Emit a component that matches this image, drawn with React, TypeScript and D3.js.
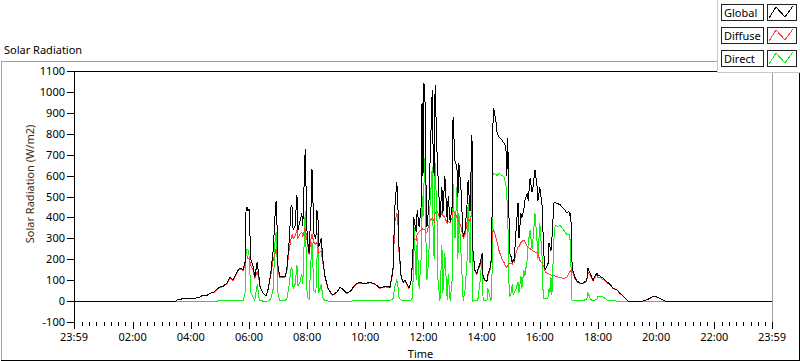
import React from "react";
import * as d3 from "d3";

// sample times (HH:MM) and readings in W/m2
const times = [
  "00:00", "03:17", "03:29", "03:34", "03:48", "04:09", "04:19", "04:25", "04:33", "04:40", "04:48", "04:54",
  "05:00", "05:06", "05:15", "05:21", "05:27", "05:35", "05:41", "05:48", "05:52", "05:54", "05:56", "05:58",
  "06:00", "06:04", "06:08", "06:12", "06:17", "06:21", "06:23", "06:29", "06:35", "06:39", "06:45", "06:50", "06:54", "06:56", "06:58",
  "07:00", "07:04", "07:10", "07:14", "07:18", "07:23", "07:27", "07:29", "07:31", "07:35", "07:39", "07:41", "07:45", "07:49", "07:51", "07:56",
  "08:00", "08:04", "08:08", "08:10", "08:14", "08:18", "08:20", "08:22", "08:24", "08:29", "08:33", "08:37", "08:43", "08:49", "08:53",
  "09:02", "09:08", "09:14", "09:22", "09:31", "09:35", "09:43", "09:49", "09:59", "10:10", "10:20", "10:30", "10:41", "10:51", "10:57",
  "11:01", "11:05", "11:07", "11:09", "11:14", "11:18", "11:22", "11:26", "11:30", "11:34", "11:38", "11:40", "11:45", "11:47", "11:51", "11:55", "11:57", "11:59",
  "12:01", "12:03", "12:05", "12:07", "12:11", "12:13", "12:18", "12:20", "12:22", "12:24", "12:28", "12:30", "12:34", "12:38", "12:40", "12:44", "12:49", "12:51", "12:55", "12:59",
  "13:01", "13:05", "13:09", "13:11", "13:13", "13:17", "13:22", "13:26", "13:30", "13:32", "13:36", "13:40", "13:42", "13:46", "13:50", "13:52", "13:57",
  "14:01", "14:03", "14:07", "14:11", "14:13", "14:19", "14:21", "14:23", "14:25", "14:30", "14:32", "14:36", "14:42", "14:46", "14:50", "14:52", "14:54", "14:56", "14:58",
  "15:01", "15:03", "15:05", "15:07", "15:11", "15:15", "15:17", "15:21", "15:23", "15:27", "15:29", "15:34", "15:36", "15:40", "15:44", "15:46", "15:50", "15:54", "15:56",
  "16:00", "16:05", "16:07", "16:09", "16:11", "16:15", "16:17", "16:19", "16:21", "16:23", "16:25", "16:29", "16:31", "16:33", "16:38", "16:42", "16:46", "16:52", "16:56", "16:58",
  "17:00", "17:02", "17:04", "17:06", "17:08", "17:13", "17:17", "17:23", "17:29", "17:37", "17:39", "17:44", "17:48", "17:50", "17:54", "17:58",
  "18:00", "18:04", "18:10", "18:19", "18:25", "18:31", "18:39", "18:45", "18:52", "18:58", "19:02", "19:33", "19:43", "19:54", "20:02", "20:08", "20:18", "23:59",
];

const globalRad = [
  0, 0, 0, 8, 12, 14, 20, 29, 27, 38, 43, 57,
  67, 70, 86, 115, 100, 139, 158, 150, 186, 445, 450, 430,
  440, 196, 170, 115, 186, 110, 67, 38, 24, 52, 134, 244, 420, 478, 354,
  160, 115, 120, 115, 148, 291, 459, 450, 340, 360, 507, 340, 380, 420, 360, 727,
  306, 230, 450, 631, 320, 300, 435, 420, 258, 300, 182, 115, 62, 38, 29,
  45, 67, 55, 38, 50, 67, 86, 88, 84, 90, 82, 62, 70, 67, 148,
  450, 570, 480, 277, 115, 90, 100, 80, 62, 90, 210, 400, 330, 435, 354, 450, 946, 600,
  1042, 980, 580, 354, 450, 626, 1008, 700, 600, 1032, 707, 600, 400, 545, 420, 600, 380, 500, 380, 450,
  880, 670, 640, 500, 660, 550, 306, 340, 468, 578, 430, 794, 244, 148, 130, 148, 182,
  230, 115, 100, 95, 130, 170, 300, 832, 922, 850, 800, 785, 770, 755, 737, 600, 780, 450, 230,
  210, 182, 200, 190, 340, 468, 300, 420, 400, 435, 480, 516, 480, 588, 520, 545, 626, 560, 480,
  545, 450, 300, 196, 148, 170, 180, 277, 258, 240, 300, 468, 473, 470, 465, 460, 450, 435, 420, 425,
  430, 410, 420, 200, 148, 110, 95, 86, 86, 100, 158, 130, 110, 100, 120, 134,
  120, 120, 110, 91, 80, 62, 55, 38, 24, 10, 0, 0, 8, 24, 20, 12, 0, 0,
];

const diffuseRad = [
  0, 0, 0, 8, 12, 14, 20, 28, 27, 37, 42, 55,
  65, 68, 84, 110, 98, 135, 155, 145, 175, 220, 215, 200,
  205, 170, 150, 110, 140, 100, 65, 37, 24, 50, 125, 200, 230, 250, 230,
  140, 112, 115, 112, 140, 250, 300, 320, 300, 310, 340, 300, 320, 330, 310, 350,
  290, 220, 300, 320, 280, 270, 280, 260, 230, 240, 175, 112, 60, 37, 28,
  44, 65, 54, 37, 49, 65, 84, 86, 82, 88, 80, 61, 68, 65, 140,
  380, 420, 400, 250, 112, 88, 98, 78, 61, 88, 190, 300, 290, 320, 330, 340, 350, 340,
  345, 340, 330, 330, 360, 380, 400, 390, 380, 420, 430, 420, 395, 430, 410, 400, 370, 380, 375, 400,
  430, 420, 400, 390, 380, 360, 300, 320, 380, 400, 380, 420, 240, 145, 128, 145, 170,
  200, 112, 98, 93, 120, 160, 280, 330, 340, 300, 280, 240, 200, 185, 165, 160, 170, 175, 180,
  180, 175, 190, 185, 230, 258, 260, 280, 285, 291, 285, 260, 258, 250, 245, 240, 235, 230, 225,
  196, 180, 170, 160, 139, 135, 130, 130, 128, 125, 124, 124, 120, 118, 115, 112, 110, 110, 115, 125,
  135, 140, 148, 140, 140, 105, 92, 84, 84, 95, 140, 122, 105, 97, 113, 125,
  112, 113, 104, 88, 78, 60, 53, 37, 24, 10, 0, 0, 8, 22, 18, 12, 0, 0,
];

const directRad = [
  0, 0, 0, 0, 0, 0, 0, 0, 0, 0, 0, 0,
  2, 2, 2, 3, 2, 3, 4, 5, 40, 240, 250, 245,
  220, 40, 20, 5, 80, 10, 2, 0, 0, 0, 10, 60, 300, 330, 200,
  30, 3, 3, 3, 10, 80, 160, 150, 60, 80, 170, 70, 90, 130, 80, 430,
  20, 10, 200, 280, 50, 40, 180, 325, 40, 80, 10, 3, 0, 0, 0,
  0, 0, 0, 0, 0, 2, 2, 2, 2, 3, 2, 2, 2, 2, 10,
  70, 100, 80, 20, 3, 2, 2, 2, 2, 2, 20, 380, 100, 300, 60, 200, 500, 400,
  560, 684, 300, 100, 200, 435, 640, 300, 200, 660, 380, 100, 0, 270, 40, 230, 5, 130, 0, 100,
  560, 300, 545, 200, 420, 250, 0, 60, 200, 468, 180, 626, 0, 2, 2, 2, 100,
  210, 3, 2, 2, 60, 5, 20, 600, 610, 605, 600, 610, 600, 595, 560, 497, 400, 100, 19,
  40, 80, 30, 40, 60, 90, 40, 120, 60, 150, 120, 200, 277, 340, 250, 300, 420, 300, 200,
  373, 200, 19, 10, 10, 10, 20, 60, 40, 115, 30, 291, 354, 360, 358, 360, 350, 330, 316, 316,
  320, 310, 200, 5, 3, 2, 2, 2, 2, 10, 43, 10, 3, 3, 5, 10,
  24, 24, 20, 5, 3, 2, 0, 0, 0, 0, 0, 0, 0, 0, 0, 0, 0, 0,
];

const yTicks = [-100, 0, 100, 200, 300, 400, 500, 600, 700, 800, 900, 1000, 1100];
const xTickLabels = ["23:59", "02:00", "04:00", "06:00", "08:00", "10:00", "12:00", "14:00", "16:00", "18:00", "20:00", "22:00", "23:59"];
const xTickMinutes = [-1, 120, 240, 360, 480, 600, 720, 840, 960, 1080, 1200, 1320, 1439];

const legendNames = ["Global", "Diffuse", "Direct"];
const legendColors = ["#000000", "#ff3b3b", "#10f010"];

const toMinutes = (t: string) => {
  const [h, m] = t.split(":").map(Number);
  return h * 60 + m;
};

const font = "'Noto Sans', 'DejaVu Sans', sans-serif";

export default function App() {
  const width = 800;
  const height = 361;

  const x = d3.scaleLinear().domain([-1, 1439]).range([74, 772]);
  const y = d3.scaleLinear().domain([-100, 1100]).range([322, 71]);

  const mins = times.map(toMinutes);
  const line = d3
    .line<number>()
    .x((_, i) => x(mins[i]))
    .y(d => y(d));

  const seriesList = [globalRad, diffuseRad, directRad];
  // direct first, global last (on top)
  const drawOrder = [2, 1, 0];

  const minorTicks = d3.range(15, 1440, 15).filter(m => m % 120 !== 0);
  const px = (v: number) => Math.round(v) + 0.5;

  return (
    <svg width={width} height={height} style={{ position: "absolute", left: 0, top: 0, background: "#fff" }} fontFamily={font}>
      {/* outer frame */}
      <line x1={1} x2={717} y1={61.5} y2={61.5} stroke="#a0a0a0" />
      <line x1={1.5} x2={1.5} y1={61} y2={360} stroke="#a0a0a0" />
      <line x1={1} x2={800} y1={360.5} y2={360.5} stroke="#000" />
      <line x1={799.5} x2={799.5} y1={72} y2={361} stroke="#000" />

      <text x={4} y={54} fontSize={11} fill="#000">Solar Radiation</text>

      {/* plot borders */}
      <line x1={74} x2={773} y1={71.5} y2={71.5} stroke="#000" />
      <line x1={772.5} x2={772.5} y1={71} y2={322} stroke="#a0a0a0" />

      {/* series */}
      {drawOrder.map(i => (
        <path
          key={legendNames[i]}
          d={line(seriesList[i]) || ""}
          fill="none"
          stroke={legendColors[i]}
          strokeWidth={1}
          shapeRendering="crispEdges"
        />
      ))}

      <line x1={74.5} x2={74.5} y1={71} y2={322} stroke="#000" />

      {/* y axis */}
      {yTicks.map(t => (
        <g key={t}>
          <line x1={67} x2={74} y1={px(y(t))} y2={px(y(t))} stroke="#000" />
          <text x={65} y={y(t) + 4} fontSize={11} textAnchor="end" fill="#000">{t}</text>
        </g>
      ))}
      <text
        transform={`translate(34,184) rotate(-90)`}
        fontSize={11}
        textAnchor="middle"
        fill="#3b2a14"
      >
        Solar Radiation (W/m2)
      </text>

      {/* x axis */}
      {minorTicks.map(m => (
        <line key={m} x1={px(x(m))} x2={px(x(m))} y1={322} y2={326} stroke="#000" />
      ))}
      {xTickMinutes.map((m, i) => (
        <g key={i}>
          <line x1={px(x(m))} x2={px(x(m))} y1={322} y2={329} stroke="#000" />
          <text x={x(m)} y={341} fontSize={11} textAnchor="middle" fill="#000">{xTickLabels[i]}</text>
        </g>
      ))}
      <text x={420.5} y={358} fontSize={11} textAnchor="middle" fill="#000">Time</text>

      {/* legend */}
      <rect x={717.5} y={-1} width={84} height={73.5} fill="#fff" stroke="#c8c8c8" />
      {legendNames.map((name, i) => {
        const top = 4 + i * 23;
        return (
          <g key={name}>
            <rect x={721.5} y={top + 0.5} width={42} height={16} fill="#fff" stroke="#222" />
            <text x={724} y={top + 13} fontSize={11} fill="#000">{name}</text>
            <rect x={767.5} y={top + 0.5} width={29} height={16} fill="#fff" stroke="#222" />
            <polyline
              points={`769,${top + 14} 776,${top + 3} 785,${top + 13} 793,${top + 2}`}
              fill="none"
              stroke={legendColors[i]}
              shapeRendering="crispEdges"
            />
          </g>
        );
      })}
    </svg>
  );
}
